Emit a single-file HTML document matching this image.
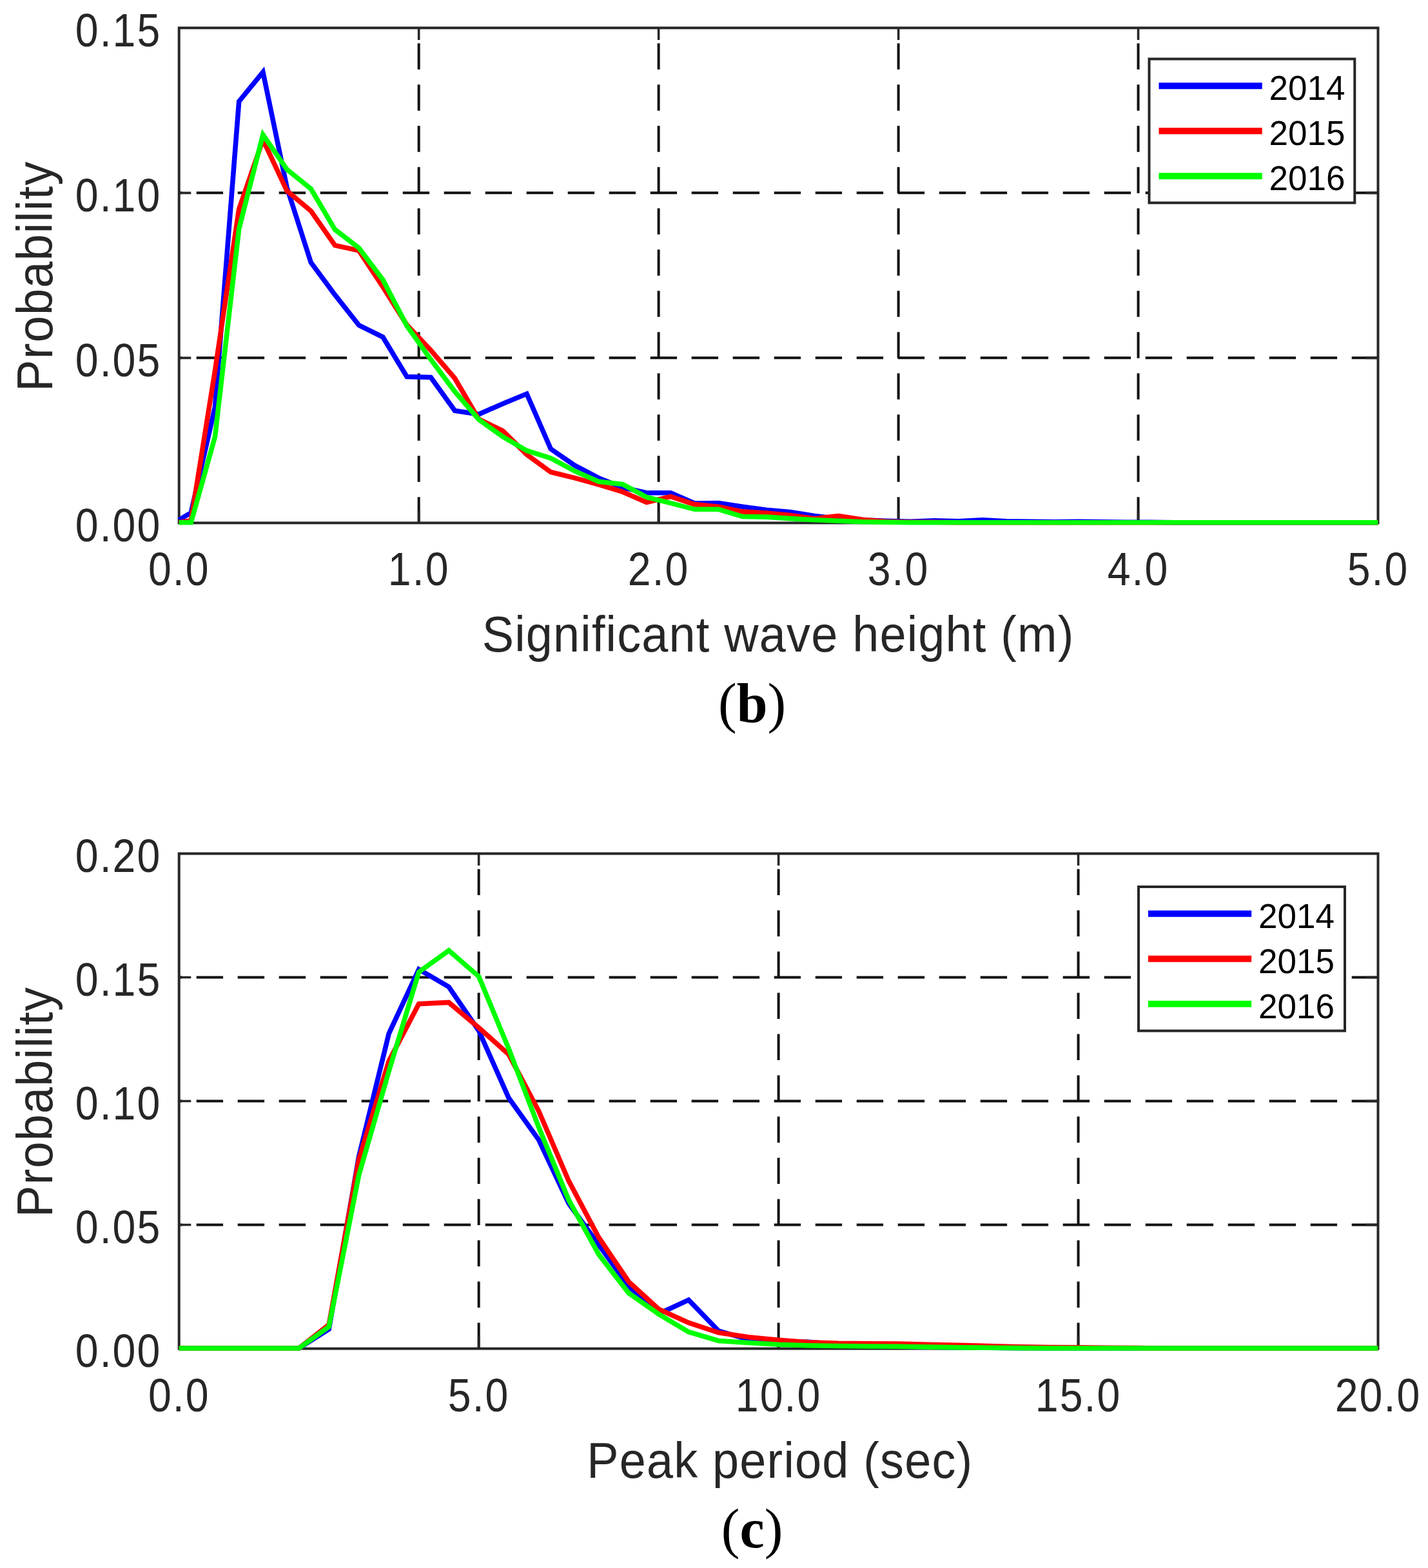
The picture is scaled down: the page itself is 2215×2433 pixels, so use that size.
<!DOCTYPE html>
<html><head><meta charset="utf-8"><title>Probability distributions</title>
<style>
html,body{margin:0;padding:0;background:#fff;}
body{width:2215px;height:2433px;overflow:hidden;}
svg{display:block;}
.tk{font-family:"Liberation Sans",Arial,sans-serif;font-size:71.5px;fill:#262626;letter-spacing:2.3px;}
.lb{font-family:"Liberation Sans",Arial,sans-serif;font-size:78.5px;fill:#262626;letter-spacing:1.3px;}
.lg{font-family:"Liberation Sans",Arial,sans-serif;font-size:53px;fill:#000;}
.pn{font-family:"Liberation Serif","Times New Roman",serif;font-weight:bold;font-size:86px;fill:#000;}
.pr{font-weight:normal;}
</style></head>
<body>
<svg xmlns="http://www.w3.org/2000/svg" width="2215" height="2433" viewBox="0 0 2215 2433">
<rect width="2215" height="2433" fill="#fff"/>
<path d="M649.66 67.3V107.8M649.66 131.3V171.8M649.66 195.3V235.8M649.66 259.3V299.8M649.66 323.3V363.8M649.66 387.3V427.8M649.66 451.3V491.8M649.66 515.3V555.8M649.66 579.3V619.8M649.66 643.3V683.8M649.66 707.3V747.8M649.66 771.3V811.4M1021.62 67.3V107.8M1021.62 131.3V171.8M1021.62 195.3V235.8M1021.62 259.3V299.8M1021.62 323.3V363.8M1021.62 387.3V427.8M1021.62 451.3V491.8M1021.62 515.3V555.8M1021.62 579.3V619.8M1021.62 643.3V683.8M1021.62 707.3V747.8M1021.62 771.3V811.4M1393.58 67.3V107.8M1393.58 131.3V171.8M1393.58 195.3V235.8M1393.58 259.3V299.8M1393.58 323.3V363.8M1393.58 387.3V427.8M1393.58 451.3V491.8M1393.58 515.3V555.8M1393.58 579.3V619.8M1393.58 643.3V683.8M1393.58 707.3V747.8M1393.58 771.3V811.4M1765.54 67.3V107.8M1765.54 131.3V171.8M1765.54 195.3V235.8M1765.54 259.3V299.8M1765.54 323.3V363.8M1765.54 387.3V427.8M1765.54 451.3V491.8M1765.54 515.3V555.8M1765.54 579.3V619.8M1765.54 643.3V683.8M1765.54 707.3V747.8M1765.54 771.3V811.4M277.7 555.37H282.1M304.7 555.37H346.1M368.7 555.37H410.1M432.7 555.37H474.1M496.7 555.37H538.1M560.7 555.37H602.1M624.7 555.37H666.1M688.7 555.37H730.1M752.7 555.37H794.1M816.7 555.37H858.1M880.7 555.37H922.1M944.7 555.37H986.1M1008.7 555.37H1050.1M1072.7 555.37H1114.1M1136.7 555.37H1178.1M1200.7 555.37H1242.1M1264.7 555.37H1306.1M1328.7 555.37H1370.1M1392.7 555.37H1434.1M1456.7 555.37H1498.1M1520.7 555.37H1562.1M1584.7 555.37H1626.1M1648.7 555.37H1690.1M1712.7 555.37H1754.1M1776.7 555.37H1818.1M1840.7 555.37H1882.1M1904.7 555.37H1946.1M1968.7 555.37H2010.1M2032.7 555.37H2074.1M2096.7 555.37H2137.5M277.7 299.33H282.1M304.7 299.33H346.1M368.7 299.33H410.1M432.7 299.33H474.1M496.7 299.33H538.1M560.7 299.33H602.1M624.7 299.33H666.1M688.7 299.33H730.1M752.7 299.33H794.1M816.7 299.33H858.1M880.7 299.33H922.1M944.7 299.33H986.1M1008.7 299.33H1050.1M1072.7 299.33H1114.1M1136.7 299.33H1178.1M1200.7 299.33H1242.1M1264.7 299.33H1306.1M1328.7 299.33H1370.1M1392.7 299.33H1434.1M1456.7 299.33H1498.1M1520.7 299.33H1562.1M1584.7 299.33H1626.1M1648.7 299.33H1690.1M1712.7 299.33H1754.1M1776.7 299.33H1818.1M1840.7 299.33H1882.1M1904.7 299.33H1946.1M1968.7 299.33H2010.1M2032.7 299.33H2074.1M2096.7 299.33H2137.5" stroke="#111111" stroke-width="4.0" fill="none"/>
<path d="M649.66 811.4V792.8M649.66 43.3V61.9M1021.62 811.4V792.8M1021.62 43.3V61.9M1393.58 811.4V792.8M1393.58 43.3V61.9M1765.54 811.4V792.8M1765.54 43.3V61.9M277.7 555.37H296.3M2137.5 555.37H2118.9M277.7 299.33H296.3M2137.5 299.33H2118.9" stroke="#262626" stroke-width="3.6" fill="none"/>
<rect x="277.7" y="43.3" width="1859.8" height="768.1" fill="none" stroke="#262626" stroke-width="4.0"/>
<polyline points="277.7,806.7 296.3,795.44 333.49,631.58 370.69,157.4 407.89,111.83 445.08,291.05 482.28,407.29 519.47,457.47 556.67,504.58 593.87,523.02 631.06,584.47 668.26,585.49 705.45,637.21 742.65,642.84 779.85,626.46 817.04,611.09 854.24,696.61 891.43,722.21 928.63,741.67 965.83,756.52 1003.02,764.71 1040.22,764.71 1077.41,781.1 1114.61,780.59 1151.81,786.22 1189,791.34 1226.2,794.41 1263.39,800.56 1300.59,804.66 1337.79,806.7 1374.98,808.24 1412.18,809.26 1449.37,807.73 1486.57,808.75 1523.77,806.7 1560.96,808.75 1598.16,809.26 1635.35,809.78 1672.55,809.26 1709.75,809.78 1746.94,810.29 1784.14,810.29 1821.33,810.8 1858.53,810.8 1895.73,810.8 1932.92,810.8 1970.12,810.8 2007.31,810.8 2044.51,810.8 2081.71,810.8 2118.9,810.8 2137.5,810.8" fill="none" stroke="#0000ff" stroke-width="7.6" stroke-linejoin="miter" stroke-miterlimit="3"/>
<polyline points="277.7,810.8 296.3,807.73 333.49,575.25 370.69,324.34 407.89,216.8 445.08,296.17 482.28,327.41 519.47,380.66 556.67,388.86 593.87,445.18 631.06,504.07 668.26,543.5 705.45,587.03 742.65,650.52 779.85,668.45 817.04,705.31 854.24,732.45 891.43,741.67 928.63,751.91 965.83,763.18 1003.02,779.56 1040.22,770.35 1077.41,782.64 1114.61,786.22 1151.81,793.9 1189,795.95 1226.2,799.53 1263.39,804.66 1300.59,800.56 1337.79,806.19 1374.98,809.26 1412.18,810.29 1449.37,810.29 1486.57,810.8 1523.77,810.8 1560.96,810.8 1598.16,810.8 1635.35,810.8 1672.55,810.8 1709.75,810.8 1746.94,810.8 1784.14,810.8 1821.33,810.8 1858.53,810.8 1895.73,810.8 1932.92,810.8 1970.12,810.8 2007.31,810.8 2044.51,810.8 2081.71,810.8 2118.9,810.8 2137.5,810.8" fill="none" stroke="#ff0000" stroke-width="7.6" stroke-linejoin="miter" stroke-miterlimit="3"/>
<polyline points="277.7,810.8 296.3,810.8 333.49,677.66 370.69,355.06 407.89,209.12 445.08,262.89 482.28,293.1 519.47,356.08 556.67,384.76 593.87,433.92 631.06,505.61 668.26,557.84 705.45,607.51 742.65,651.04 779.85,677.66 817.04,699.17 854.24,710.95 891.43,730.92 928.63,747.3 965.83,751.4 1003.02,771.37 1040.22,780.59 1077.41,790.32 1114.61,790.32 1151.81,801.58 1189,802.09 1226.2,804.66 1263.39,806.7 1300.59,808.24 1337.79,809.78 1374.98,810.29 1412.18,810.8 1449.37,810.8 1486.57,810.8 1523.77,810.8 1560.96,810.8 1598.16,810.8 1635.35,810.8 1672.55,810.8 1709.75,810.8 1746.94,810.8 1784.14,810.8 1821.33,810.8 1858.53,810.8 1895.73,810.8 1932.92,810.8 1970.12,810.8 2007.31,810.8 2044.51,810.8 2081.71,810.8 2118.9,810.8 2137.5,810.8" fill="none" stroke="#00ff00" stroke-width="7.6" stroke-linejoin="miter" stroke-miterlimit="3"/>
<text transform="translate(250.3 839.6) scale(0.9 1)" text-anchor="end" class="tk">0.00</text>
<text transform="translate(250.3 583.57) scale(0.9 1)" text-anchor="end" class="tk">0.05</text>
<text transform="translate(250.3 327.53) scale(0.9 1)" text-anchor="end" class="tk">0.10</text>
<text transform="translate(250.3 71.5) scale(0.9 1)" text-anchor="end" class="tk">0.15</text>
<text transform="translate(277.7 908.3) scale(0.9 1)" text-anchor="middle" class="tk">0.0</text>
<text transform="translate(649.66 908.3) scale(0.9 1)" text-anchor="middle" class="tk">1.0</text>
<text transform="translate(1021.62 908.3) scale(0.9 1)" text-anchor="middle" class="tk">2.0</text>
<text transform="translate(1393.58 908.3) scale(0.9 1)" text-anchor="middle" class="tk">3.0</text>
<text transform="translate(1765.54 908.3) scale(0.9 1)" text-anchor="middle" class="tk">4.0</text>
<text transform="translate(2137.5 908.3) scale(0.9 1)" text-anchor="middle" class="tk">5.0</text>
<text transform="translate(1207.1 1011.3) scale(0.94 1)" text-anchor="middle" class="lb">Significant wave height (m)</text>
<text transform="translate(81.3 428.55) rotate(-90) scale(0.94 1)" text-anchor="middle" class="lb">Probability</text>
<text x="1166.6" y="1119.5" text-anchor="middle" class="pn"><tspan class="pr">(</tspan>b<tspan class="pr">)</tspan></text>
<rect x="1782.5" y="91.5" width="318.8" height="223.2" fill="#fff" stroke="#262626" stroke-width="4"/>
<line x1="1797.5" y1="133.2" x2="1957.7" y2="133.2" stroke="#0000ff" stroke-width="10"/>
<text x="1968.5" y="155.4" class="lg">2014</text>
<line x1="1797.5" y1="203.2" x2="1957.7" y2="203.2" stroke="#ff0000" stroke-width="10"/>
<text x="1968.5" y="225.4" class="lg">2015</text>
<line x1="1797.5" y1="273.2" x2="1957.7" y2="273.2" stroke="#00ff00" stroke-width="10"/>
<text x="1968.5" y="295.4" class="lg">2016</text>
<path d="M742.65 1348.5V1389M742.65 1412.5V1453M742.65 1476.5V1517M742.65 1540.5V1581M742.65 1604.5V1645M742.65 1668.5V1709M742.65 1732.5V1773M742.65 1796.5V1837M742.65 1860.5V1901M742.65 1924.5V1965M742.65 1988.5V2029M742.65 2052.5V2092.6M1207.6 1348.5V1389M1207.6 1412.5V1453M1207.6 1476.5V1517M1207.6 1540.5V1581M1207.6 1604.5V1645M1207.6 1668.5V1709M1207.6 1732.5V1773M1207.6 1796.5V1837M1207.6 1860.5V1901M1207.6 1924.5V1965M1207.6 1988.5V2029M1207.6 2052.5V2092.6M1672.55 1348.5V1389M1672.55 1412.5V1453M1672.55 1476.5V1517M1672.55 1540.5V1581M1672.55 1604.5V1645M1672.55 1668.5V1709M1672.55 1732.5V1773M1672.55 1796.5V1837M1672.55 1860.5V1901M1672.55 1924.5V1965M1672.55 1988.5V2029M1672.55 2052.5V2092.6M277.7 1900.57H282.1M304.7 1900.57H346.1M368.7 1900.57H410.1M432.7 1900.57H474.1M496.7 1900.57H538.1M560.7 1900.57H602.1M624.7 1900.57H666.1M688.7 1900.57H730.1M752.7 1900.57H794.1M816.7 1900.57H858.1M880.7 1900.57H922.1M944.7 1900.57H986.1M1008.7 1900.57H1050.1M1072.7 1900.57H1114.1M1136.7 1900.57H1178.1M1200.7 1900.57H1242.1M1264.7 1900.57H1306.1M1328.7 1900.57H1370.1M1392.7 1900.57H1434.1M1456.7 1900.57H1498.1M1520.7 1900.57H1562.1M1584.7 1900.57H1626.1M1648.7 1900.57H1690.1M1712.7 1900.57H1754.1M1776.7 1900.57H1818.1M1840.7 1900.57H1882.1M1904.7 1900.57H1946.1M1968.7 1900.57H2010.1M2032.7 1900.57H2074.1M2096.7 1900.57H2137.5M277.7 1708.55H282.1M304.7 1708.55H346.1M368.7 1708.55H410.1M432.7 1708.55H474.1M496.7 1708.55H538.1M560.7 1708.55H602.1M624.7 1708.55H666.1M688.7 1708.55H730.1M752.7 1708.55H794.1M816.7 1708.55H858.1M880.7 1708.55H922.1M944.7 1708.55H986.1M1008.7 1708.55H1050.1M1072.7 1708.55H1114.1M1136.7 1708.55H1178.1M1200.7 1708.55H1242.1M1264.7 1708.55H1306.1M1328.7 1708.55H1370.1M1392.7 1708.55H1434.1M1456.7 1708.55H1498.1M1520.7 1708.55H1562.1M1584.7 1708.55H1626.1M1648.7 1708.55H1690.1M1712.7 1708.55H1754.1M1776.7 1708.55H1818.1M1840.7 1708.55H1882.1M1904.7 1708.55H1946.1M1968.7 1708.55H2010.1M2032.7 1708.55H2074.1M2096.7 1708.55H2137.5M277.7 1516.53H282.1M304.7 1516.53H346.1M368.7 1516.53H410.1M432.7 1516.53H474.1M496.7 1516.53H538.1M560.7 1516.53H602.1M624.7 1516.53H666.1M688.7 1516.53H730.1M752.7 1516.53H794.1M816.7 1516.53H858.1M880.7 1516.53H922.1M944.7 1516.53H986.1M1008.7 1516.53H1050.1M1072.7 1516.53H1114.1M1136.7 1516.53H1178.1M1200.7 1516.53H1242.1M1264.7 1516.53H1306.1M1328.7 1516.53H1370.1M1392.7 1516.53H1434.1M1456.7 1516.53H1498.1M1520.7 1516.53H1562.1M1584.7 1516.53H1626.1M1648.7 1516.53H1690.1M1712.7 1516.53H1754.1M1776.7 1516.53H1818.1M1840.7 1516.53H1882.1M1904.7 1516.53H1946.1M1968.7 1516.53H2010.1M2032.7 1516.53H2074.1M2096.7 1516.53H2137.5" stroke="#111111" stroke-width="4.0" fill="none"/>
<path d="M742.65 2092.6V2074M742.65 1324.5V1343.1M1207.6 2092.6V2074M1207.6 1324.5V1343.1M1672.55 2092.6V2074M1672.55 1324.5V1343.1M277.7 1900.57H296.3M2137.5 1900.57H2118.9M277.7 1708.55H296.3M2137.5 1708.55H2118.9M277.7 1516.53H296.3M2137.5 1516.53H2118.9" stroke="#262626" stroke-width="3.6" fill="none"/>
<rect x="277.7" y="1324.5" width="1859.8" height="768.1" fill="none" stroke="#262626" stroke-width="4.0"/>
<polyline points="277.7,2092 324.19,2092 370.69,2092 417.18,2092 463.68,2092 510.17,2062.43 556.67,1794.36 603.16,1603.87 649.66,1504.02 696.15,1531.29 742.65,1599.26 789.14,1703.73 835.64,1768.63 882.13,1867.33 928.63,1931.47 975.12,1995.6 1021.62,2038.62 1068.12,2017.11 1114.61,2065.12 1161.11,2078.56 1207.6,2081.25 1254.1,2082.4 1300.59,2086.24 1347.09,2088.16 1393.58,2088.93 1440.08,2090.08 1486.57,2090.85 1533.07,2091.23 1579.56,2091.62 1626.06,2092 1672.55,2092 1719.05,2092 1765.54,2092 1812.03,2092 1858.53,2092 1905.02,2092 1951.52,2092 1998.01,2092 2044.51,2092 2091,2092 2137.5,2092" fill="none" stroke="#0000ff" stroke-width="7.6" stroke-linejoin="miter" stroke-miterlimit="3"/>
<polyline points="277.7,2092 324.19,2092 370.69,2092 417.18,2092 463.68,2092 510.17,2055.52 556.67,1798.97 603.16,1646.5 649.66,1557.79 696.15,1555.48 742.65,1594.66 789.14,1636.13 835.64,1724.08 882.13,1832.38 928.63,1919.95 975.12,1988.69 1021.62,2031.32 1068.12,2052.44 1114.61,2067.8 1161.11,2074.72 1207.6,2079.33 1254.1,2082.78 1300.59,2084.32 1347.09,2084.7 1393.58,2085.09 1440.08,2086.24 1486.57,2087.39 1533.07,2088.54 1579.56,2089.7 1626.06,2090.46 1672.55,2090.85 1719.05,2091.23 1765.54,2091.62 1812.03,2092 1858.53,2092 1905.02,2092 1951.52,2092 1998.01,2092 2044.51,2092 2091,2092 2137.5,2092" fill="none" stroke="#ff0000" stroke-width="7.6" stroke-linejoin="miter" stroke-miterlimit="3"/>
<polyline points="277.7,2092 324.19,2092 370.69,2092 417.18,2092 463.68,2092 510.17,2058.59 556.67,1823.16 603.16,1662.25 649.66,1508.24 696.15,1474.83 742.65,1515.16 789.14,1627.3 835.64,1749.04 882.13,1861.95 928.63,1946.45 975.12,2006.36 1021.62,2039 1068.12,2066.65 1114.61,2080.48 1161.11,2083.55 1207.6,2086.24 1254.1,2087.78 1300.59,2088.54 1347.09,2088.93 1393.58,2089.31 1440.08,2090.08 1486.57,2090.85 1533.07,2091.23 1579.56,2091.62 1626.06,2092 1672.55,2092 1719.05,2092 1765.54,2092 1812.03,2092 1858.53,2092 1905.02,2092 1951.52,2092 1998.01,2092 2044.51,2092 2091,2092 2137.5,2092" fill="none" stroke="#00ff00" stroke-width="7.6" stroke-linejoin="miter" stroke-miterlimit="3"/>
<text transform="translate(250.3 2120.8) scale(0.9 1)" text-anchor="end" class="tk">0.00</text>
<text transform="translate(250.3 1928.77) scale(0.9 1)" text-anchor="end" class="tk">0.05</text>
<text transform="translate(250.3 1736.75) scale(0.9 1)" text-anchor="end" class="tk">0.10</text>
<text transform="translate(250.3 1544.73) scale(0.9 1)" text-anchor="end" class="tk">0.15</text>
<text transform="translate(250.3 1352.7) scale(0.9 1)" text-anchor="end" class="tk">0.20</text>
<text transform="translate(277.7 2189.5) scale(0.9 1)" text-anchor="middle" class="tk">0.0</text>
<text transform="translate(742.65 2189.5) scale(0.9 1)" text-anchor="middle" class="tk">5.0</text>
<text transform="translate(1207.6 2189.5) scale(0.9 1)" text-anchor="middle" class="tk">10.0</text>
<text transform="translate(1672.55 2189.5) scale(0.9 1)" text-anchor="middle" class="tk">15.0</text>
<text transform="translate(2137.5 2189.5) scale(0.9 1)" text-anchor="middle" class="tk">20.0</text>
<text transform="translate(1209.8 2292.5) scale(0.94 1)" text-anchor="middle" class="lb">Peak period (sec)</text>
<text transform="translate(81.3 1709.75) rotate(-90) scale(0.94 1)" text-anchor="middle" class="lb">Probability</text>
<text x="1166.6" y="2400.7" text-anchor="middle" class="pn"><tspan class="pr">(</tspan>c<tspan class="pr">)</tspan></text>
<rect x="1766" y="1376" width="320" height="223.5" fill="#fff" stroke="#262626" stroke-width="4"/>
<line x1="1781" y1="1417.7" x2="1941.2" y2="1417.7" stroke="#0000ff" stroke-width="10"/>
<text x="1952" y="1439.9" class="lg">2014</text>
<line x1="1781" y1="1487.7" x2="1941.2" y2="1487.7" stroke="#ff0000" stroke-width="10"/>
<text x="1952" y="1509.9" class="lg">2015</text>
<line x1="1781" y1="1557.7" x2="1941.2" y2="1557.7" stroke="#00ff00" stroke-width="10"/>
<text x="1952" y="1579.9" class="lg">2016</text>
</svg>
</body></html>
